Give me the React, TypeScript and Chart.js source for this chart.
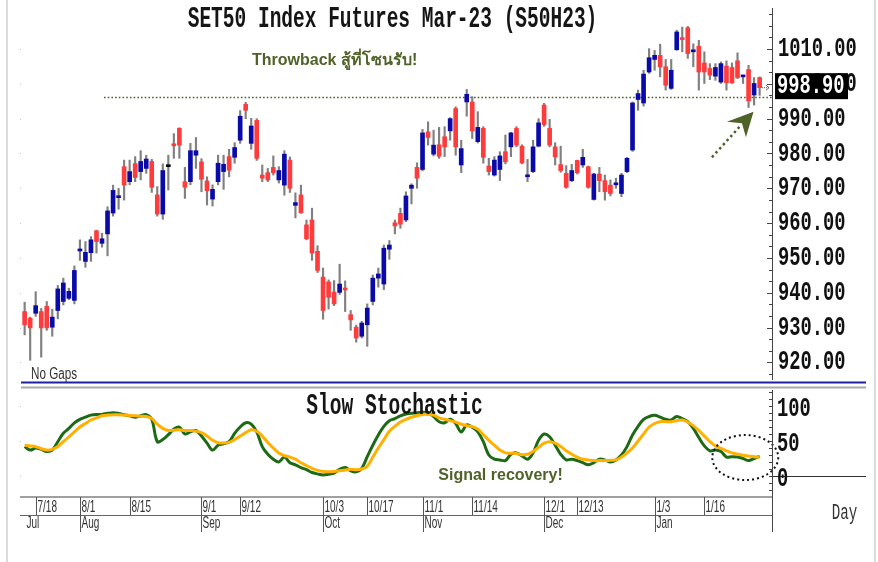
import React, { useEffect, useRef } from "react";
import { Chart, registerables } from "chart.js";

Chart.register(...registerables);

// ---------------- DATA ----------------
const openP = [
  934.6, 932.7, 934.1, 934.6, 936.1, 930.1, 934.9, 937.5, 938.4, 937.8,
  952.0, 949.0, 951.5, 957.8, 954.2, 956.9, 962.9, 967.3, 976.2, 971.9,
  977.1, 974.8, 975.7, 977.7, 968.1, 962.6, 976.2, 982.7, 987.2, 971.9,
  971.9, 979.5, 977.6, 972.1, 966.9, 971.9, 974.8, 979.1, 978.9, 983.8,
  994.1, 982.9, 989.5, 973.8, 974.5, 976.0, 972.4, 970.9, 978.1, 965.1,
  968.1, 959.5, 960.9, 951.9, 944.5, 943.1, 940.2, 940.1, 941.1, 933.7,
  930.1, 927.5, 930.8, 937.5, 944.2, 942.5, 952.5, 960.1, 962.8, 960.9,
  970.0, 976.0, 975.4, 986.2, 979.8, 982.5, 984.8, 986.5, 992.9, 976.7,
  994.8, 994.8, 983.4, 987.2, 976.4, 973.8, 975.4, 980.5, 981.9, 987.2,
  982.1, 973.3, 974.8, 982.1, 993.9, 987.2, 981.9, 976.8, 974.3, 972.2,
  978.0, 976.7, 976.2, 966.8, 974.1, 972.2, 970.9, 971.0, 968.5, 974.8,
  981.0, 995.5, 994.5, 1003.4, 1007.0, 1008.2, 1004.9, 998.7, 1009.8, 1013.0,
  1016.1, 1009.2, 1010.8, 1006.0, 1004.4, 1002.2, 1000.5, 1005.1, 1004.7, 1006.6,
  1002.0, 1004.1, 996.8, 1001.8,
];
const highP = [
  937.3, 933.0, 940.3, 935.5, 937.5, 935.3, 942.1, 944.2, 941.3, 947.7,
  955.2, 954.7, 956.1, 958.0, 957.1, 964.7, 970.9, 970.0, 978.1, 978.1,
  979.1, 980.8, 979.5, 978.3, 970.5, 977.0, 979.5, 985.7, 987.4, 976.0,
  982.9, 984.6, 978.5, 973.3, 971.0, 979.5, 979.5, 981.2, 983.1, 992.3,
  994.7, 990.1, 990.0, 976.7, 975.7, 979.3, 976.2, 980.8, 979.0, 968.7,
  970.9, 960.9, 964.3, 953.5, 947.1, 943.7, 943.5, 948.2, 943.4, 934.9,
  930.7, 931.8, 936.8, 945.1, 947.1, 953.7, 955.0, 960.9, 964.3, 969.0,
  971.3, 977.3, 986.9, 989.1, 986.7, 987.5, 987.7, 990.3, 993.4, 983.8,
  998.4, 996.3, 992.0, 987.7, 978.6, 979.1, 980.5, 985.3, 986.1, 987.7,
  982.5, 978.3, 983.8, 990.0, 994.4, 989.8, 983.1, 982.1, 976.5, 976.9,
  978.1, 981.2, 976.4, 974.3, 976.0, 973.8, 972.4, 972.9, 974.3, 978.9,
  994.8, 998.2, 1003.9, 1010.1, 1009.6, 1011.4, 1007.0, 1007.0, 1015.4, 1016.3,
  1016.5, 1011.5, 1012.5, 1009.2, 1005.8, 1005.8, 1006.3, 1006.6, 1006.0, 1008.9,
  1002.4, 1005.3, 1001.8, 1002.0,
];
const lowP = [
  927.9, 920.6, 933.2, 921.5, 929.2, 927.5, 932.5, 936.5, 938.0, 936.8,
  949.3, 947.3, 949.0, 951.4, 953.1, 950.6, 962.0, 964.0, 966.6, 971.0,
  971.9, 972.4, 974.3, 968.8, 962.0, 961.1, 969.5, 978.6, 978.6, 967.1,
  971.0, 975.7, 969.0, 965.2, 964.9, 971.0, 969.7, 973.3, 977.2, 982.9,
  990.0, 981.2, 978.0, 971.9, 971.9, 973.8, 971.5, 968.0, 968.8, 961.5,
  962.8, 955.2, 949.3, 945.8, 932.4, 935.3, 936.3, 939.5, 934.6, 929.2,
  925.8, 927.0, 924.6, 936.5, 941.6, 940.9, 949.6, 956.9, 958.5, 960.4,
  965.5, 970.0, 975.0, 982.4, 979.3, 978.6, 979.1, 983.8, 979.5, 974.5,
  990.7, 984.3, 983.0, 977.2, 973.8, 973.5, 972.2, 977.0, 979.1, 981.9,
  977.0, 971.9, 974.5, 981.9, 987.8, 981.9, 976.7, 974.6, 970.0, 971.9,
  974.1, 976.0, 970.0, 966.6, 969.0, 966.6, 967.8, 970.0, 967.6, 974.5,
  980.6, 992.4, 993.6, 1003.0, 1003.9, 1002.0, 998.2, 998.4, 1009.6, 1009.2,
  1007.3, 1004.9, 998.2, 1000.1, 1001.2, 1001.0, 1000.1, 998.2, 1000.1, 1001.5,
  1000.1, 993.2, 993.9, 996.7,
];
const closeP = [
  930.8, 929.9, 936.3, 929.9, 929.9, 933.0, 941.1, 942.8, 940.4, 946.4,
  952.5, 951.6, 955.2, 954.7, 955.5, 963.5, 969.4, 967.5, 970.9, 974.8,
  973.1, 977.7, 978.4, 970.3, 962.6, 975.1, 976.2, 982.2, 982.4, 970.3,
  980.8, 980.8, 972.6, 969.3, 969.7, 977.2, 976.9, 975.2, 981.7, 990.7,
  992.4, 987.9, 978.6, 972.9, 972.4, 974.5, 975.1, 979.8, 970.0, 965.9,
  963.0, 955.5, 951.4, 946.4, 934.9, 938.7, 936.8, 942.5, 940.8, 932.2,
  927.0, 931.3, 935.6, 944.2, 945.4, 952.8, 953.7, 959.2, 959.7, 967.8,
  970.9, 972.9, 985.9, 984.6, 982.4, 979.2, 981.9, 990.0, 981.9, 981.4,
  997.0, 986.5, 987.5, 978.9, 974.8, 978.1, 979.3, 977.6, 985.9, 982.4,
  977.3, 973.8, 981.9, 988.8, 988.3, 982.4, 979.0, 975.1, 970.3, 975.1,
  974.5, 978.9, 970.3, 974.1, 972.2, 969.0, 968.5, 971.4, 973.8, 978.6,
  994.5, 997.2, 1002.8, 1007.5, 1008.2, 1004.9, 999.6, 1003.9, 1014.9, 1012.7,
  1008.7, 1009.6, 1003.4, 1003.4, 1002.5, 1004.7, 1005.8, 1000.3, 1000.3, 1001.8,
  1002.2, 995.1, 1000.1, 998.9,
];
const stochK = [
  42, 37, 40, 38, 35, 37, 49, 61, 68, 76,
  81, 84, 87, 88, 88, 89.5, 90.5, 89.5, 87.6, 86,
  84, 86, 87.6, 81, 49, 52, 59, 67, 70, 60,
  63, 65, 57, 47, 37, 44, 46, 49, 61, 70,
  76, 74, 63, 42, 31, 24, 20, 27, 19, 16,
  12, 9, 5, 3, 1.5, 2.5, 4, 9.5, 12, 7.5,
  6, 11, 27.6, 44, 58.6, 71, 79, 82, 86, 88.6,
  89.5, 90.5, 91, 90.5, 85, 77.6, 76, 81, 75, 63,
  73, 69.5, 63, 49, 30, 24, 23, 22, 31, 33,
  28.6, 24, 33, 51, 60, 56, 44, 31, 23, 24,
  22, 19, 16, 19, 24, 23, 20, 23, 30, 42,
  58.6, 71, 81, 85, 86.7, 84, 81, 80, 85, 82,
  77.6, 68, 55, 43, 36, 37, 35, 27, 27.6, 27,
  25, 22, 25, 28,
];
const stochD = [
  44, 43, 42, 39, 37, 38, 42, 49, 56, 63,
  70, 75, 80, 83, 86, 87, 87.6, 87.5, 87, 86.5,
  86, 85.5, 85, 82, 74, 68, 65, 65.5, 66, 65,
  65, 64, 62, 57, 51, 47.6, 47, 48, 52, 57,
  62, 66, 64, 57, 48, 40, 33, 29, 27, 24,
  19, 15, 11, 8, 6.5, 6, 6.5, 7.5, 8.5, 9.5,
  9, 10, 14, 27, 40, 52, 64, 71, 77, 81,
  84, 86, 88, 88, 87, 83, 81, 79, 77, 74,
  72, 70.5, 67, 59, 51, 44, 37, 33, 32.5, 32,
  30.5, 31, 35, 41, 47, 49, 47, 42, 36, 31,
  27, 24, 23, 22, 22, 22, 22.5, 23, 27, 33,
  40, 50, 60, 70, 75, 77.6, 77.6, 77.6, 79, 80,
  77, 72, 65, 57, 49, 43, 39.5, 36, 33, 31,
  29.5, 28.6, 27.5, 27,
];
const priceTicks = [920, 930, 940, 950, 960, 970, 980, 990, 1000, 1010];
const stochTicks = [0, 50, 100];
const dateLabels = ["7/18", "8/1", "8/15", "9/1", "9/12", "10/3", "10/17", "11/1", "11/14", "12/1", "12/13", "1/3", "1/16"];
const dateIdx = [2, 10, 19, 32, 39, 54, 62, 72, 81, 94, 100, 114, 123];
const monthLabels = ["Jul", "Aug", "Sep", "Oct", "Nov", "Dec", "Jan"];
const monthIdx = [0, 10, 32, 54, 72, 94, 114];
const supportLevel = 996.1;
const arrowTip = { i: 131.9, p: 992.0 };
const circleAt = { i: 130.4, v: 26.4 };

const TITLE = "SET50 Index Futures Mar-23 (S50H23)";
const NOTE1 = "Throwback สู้ที่โซนรับ!";
const NOTE2 = "Signal recovery!";
const SUB = "Slow Stochastic";

// ---------------- STYLE ----------------
const X_MIN = -0.84;
const X_MAX = 135.24;
const P_MIN = 914.94;
const P_MAX = 1021.78;
const S_MIN = -30;
const S_MAX = 122.86;
const OLIVE = "#4f6228";
const RED = "#ff3b3b";
const BLUE = "#0a0aa8";
const MONO = '"Liberation Mono", "DejaVu Sans Mono", monospace';
const SANS = '"Liberation Sans", Arial, "Noto Sans", sans-serif';

function sText(ctx: CanvasRenderingContext2D, text: string, x: number, y: number, font: string, sy: number, color: string, align: CanvasTextAlign = "left") {
  ctx.save();
  ctx.translate(x, y);
  ctx.scale(1, sy);
  ctx.font = font;
  ctx.fillStyle = color;
  ctx.textAlign = align;
  ctx.textBaseline = "middle";
  ctx.fillText(text, 0, 0);
  ctx.restore();
}

const idx = closeP.map((_, i) => i);

export default function App() {
  const refA = useRef<HTMLCanvasElement>(null);
  const refB = useRef<HTMLCanvasElement>(null);

  useEffect(() => {
    const bodyColors = idx.map((i) =>
      closeP[i] > openP[i] ? BLUE : closeP[i] < openP[i] ? RED : "#000000"
    );

    const pluginA = {
      id: "decoA",
      beforeDatasetsDraw(chart: any) {
        const { ctx, scales } = chart;
        const y = scales.y;
        ctx.save();
        // support dotted line
        const ys = Math.round(y.getPixelForValue(supportLevel)) + 0.5;
        ctx.strokeStyle = OLIVE;
        ctx.lineWidth = 1.5;
        ctx.setLineDash([1.6, 2.1]);
        ctx.beginPath();
        ctx.moveTo(104, ys);
        ctx.lineTo(772, ys);
        ctx.stroke();
        ctx.setLineDash([]);
        // faint left marks
        ctx.fillStyle = "#c8c8c8";
        priceTicks.forEach((v) => ctx.fillRect(20, Math.round(y.getPixelForValue(v)), 1, 1));
        ctx.restore();
      },
      afterDraw(chart: any) {
        const { ctx, scales } = chart;
        const x = scales.x;
        const y = scales.y;
        ctx.save();
        // frame
        ctx.fillStyle = "#dcdcdc";
        ctx.fillRect(6, 0, 2, 390);
        ctx.fillRect(874, 0, 2, 390);
        // title
        sText(ctx, TITLE, 392.5, 20, "bold 19.5px " + MONO, 1.5, "#151515", "center");
        // note
        ctx.font = "bold 16px " + SANS;
        ctx.fillStyle = OLIVE;
        ctx.textBaseline = "middle";
        ctx.textAlign = "left";
        ctx.fillText(NOTE1, 252, 61);
        // arrow
        const tx = x.getPixelForValue(arrowTip.i);
        const ty = y.getPixelForValue(arrowTip.p);
        ctx.fillStyle = OLIVE;
        ctx.beginPath();
        ctx.moveTo(tx, ty);
        ctx.lineTo(tx - 26.6, ty + 10);
        ctx.lineTo(tx - 11.6, ty + 11.6);
        ctx.lineTo(tx - 7.6, ty + 25.6);
        ctx.closePath();
        ctx.fill();
        ctx.strokeStyle = OLIVE;
        ctx.lineWidth = 2.5;
        ctx.setLineDash([2.5, 3]);
        ctx.beginPath();
        ctx.moveTo(tx - 41.6, ty + 45.6);
        ctx.lineTo(tx - 13, ty + 14);
        ctx.stroke();
        ctx.setLineDash([]);
        // right axis
        ctx.fillStyle = "#444";
        ctx.fillRect(772, 8, 1, 372);
        for (let v = 920 - 10; v <= 1021; v += 10 / 3) {
          const py = Math.round(y.getPixelForValue(v));
          if (py < 9 || py > 379) continue;
          ctx.fillRect(769, py, 3, 1);
        }
        priceTicks.forEach((v) => {
          ctx.fillRect(767, Math.round(y.getPixelForValue(v)), 5, 1);
          sText(ctx, v.toFixed(2), 778, y.getPixelForValue(v), "bold 18.8px " + MONO, 1.5, "#111");
        });
        // last price box
        const last = closeP[closeP.length - 1];
        const ly = y.getPixelForValue(last) - 1.5;
        ctx.fillStyle = "#000";
        ctx.fillRect(775, ly - 13, 73, 26);
        sText(ctx, last.toFixed(2), 777, ly, "bold 18.8px " + MONO, 1.5, "#fff");
        // tiny pointer
        ctx.strokeStyle = "#666";
        ctx.lineWidth = 1;
        ctx.setLineDash([1, 1]);
        ctx.beginPath();
        ctx.moveTo(762, ly + 1.5);
        ctx.lineTo(769, ly + 1.5);
        ctx.stroke();
        ctx.setLineDash([]);
        ctx.beginPath();
        ctx.moveTo(766, ly - 1);
        ctx.lineTo(769, ly + 1.5);
        ctx.lineTo(766, ly + 4);
        ctx.stroke();
        // No Gaps
        sText(ctx, "No Gaps", 31, 374, "11.7px " + SANS, 1.4, "#333");
        // separators
        ctx.fillStyle = "#2020a0";
        ctx.fillRect(21, 381.5, 845, 2);
        ctx.fillStyle = "#a8a8a8";
        ctx.fillRect(21, 386.5, 845, 2);
        ctx.restore();
      },
    };

    const pluginB = {
      id: "decoB",
      afterDraw(chart: any) {
        const { ctx, scales } = chart;
        const x = scales.x;
        const y = scales.y;
        ctx.save();
        ctx.fillStyle = "#dcdcdc";
        ctx.fillRect(6, 0, 2, 172);
        ctx.fillRect(874, 0, 2, 172);
        // subtitle
        sText(ctx, SUB, 394.5, 16.5, "bold 19.6px " + MONO, 1.5, "#151515", "center");
        // note
        ctx.font = "bold 16px " + SANS;
        ctx.fillStyle = OLIVE;
        ctx.textBaseline = "middle";
        ctx.textAlign = "left";
        ctx.fillText(NOTE2, 438.3, 85.5);
        // dotted ellipse
        ctx.strokeStyle = "#111";
        ctx.lineWidth = 2;
        ctx.setLineDash([2, 3]);
        ctx.beginPath();
        ctx.ellipse(x.getPixelForValue(circleAt.i), y.getPixelForValue(circleAt.v), 33, 22.5, 0, 0, Math.PI * 2);
        ctx.stroke();
        ctx.setLineDash([]);
        // right axis
        ctx.fillStyle = "#444";
        ctx.fillRect(772, 0, 1, 142);
        for (let v = -20; v <= 120; v += 10) {
          ctx.fillRect(769, Math.round(y.getPixelForValue(v)), 3, 1);
        }
        ctx.fillStyle = "#333";
        ctx.fillRect(773, Math.round(y.getPixelForValue(0)), 93, 1);
        ctx.fillStyle = "#c8c8c8";
        stochTicks.forEach((v) => ctx.fillRect(20, Math.round(y.getPixelForValue(v)), 1, 1));
        stochTicks.forEach((v) => {
          sText(ctx, String(v), 777, y.getPixelForValue(v) + 3, "bold 18.8px " + MONO, 1.5, "#111");
        });
        // date axis
        ctx.fillStyle = "#a0a0a0";
        ctx.fillRect(20, 106, 752, 2);
        ctx.fillStyle = "#666";
        ctx.fillRect(20, 125, 752, 1);
        ctx.fillStyle = "#555";
        dateIdx.forEach((d, k) => {
          const px = Math.round(x.getPixelForValue(d));
          ctx.fillStyle = "#555";
          ctx.fillRect(px, 107, 1, 18);
          sText(ctx, dateLabels[k], px + 1.5, 117.5, "10px " + SANS, 1.6, "#333");
        });
        monthIdx.forEach((m, k) => {
          const px = Math.round(x.getPixelForValue(m));
          if (k > 0) {
            ctx.fillStyle = "#555";
            ctx.fillRect(px, 107, 1, 35);
          }
          sText(ctx, monthLabels[k], px + 1.5, 133.3, "10px " + SANS, 1.6, "#333");
        });
        sText(ctx, "Day", 831.7, 123.4, "14.2px " + MONO, 1.6, "#333");
        ctx.restore();
      },
    };

    const a = new Chart(refA.current!, {
      type: "bar",
      data: {
        datasets: [
          {
            type: "bar",
            data: idx.map((i) => ({ x: i, y: [openP[i], closeP[i]] })),
            backgroundColor: bodyColors,
            barThickness: 4,
            minBarLength: 2,
            grouped: false,
            order: 0,
          } as any,
          {
            type: "bar",
            data: idx.map((i) => ({ x: i, y: [lowP[i], highP[i]] })),
            backgroundColor: "#808080",
            barThickness: 1.5,
            grouped: false,
            order: 1,
          } as any,
        ],
      },
      options: {
        animation: false,
        responsive: false,
        devicePixelRatio: 1,
        layout: { padding: { left: 20, right: 106, top: 8, bottom: 10 } },
        plugins: { legend: { display: false }, tooltip: { enabled: false } },
        scales: {
          x: { type: "linear", min: X_MIN, max: X_MAX, display: false, offset: false },
          y: { type: "linear", min: P_MIN, max: P_MAX, display: false },
        },
      } as any,
      plugins: [pluginA],
    });

    const b = new Chart(refB.current!, {
      type: "line",
      data: {
        datasets: [
          {
            data: idx.map((i) => ({ x: i, y: stochD[i] })),
            borderColor: "#ffb000",
            borderWidth: 3,
            pointRadius: 0,
            tension: 0.35,
            fill: false,
          },
          {
            data: idx.map((i) => ({ x: i, y: stochK[i] })),
            borderColor: "#1d6a14",
            borderWidth: 3,
            pointRadius: 0,
            tension: 0.35,
            fill: false,
          },
        ],
      },
      options: {
        animation: false,
        responsive: false,
        devicePixelRatio: 1,
        layout: { padding: { left: 20, right: 106, top: 0, bottom: 65 } },
        plugins: { legend: { display: false }, tooltip: { enabled: false } },
        scales: {
          x: { type: "linear", min: X_MIN, max: X_MAX, display: false },
          y: { type: "linear", min: S_MIN, max: S_MAX, display: false },
        },
      } as any,
      plugins: [pluginB],
    });

    return () => {
      a.destroy();
      b.destroy();
    };
  }, []);

  return (
    <div style={{ position: "absolute", left: 0, top: 0, width: 878, height: 562, background: "#fff" }}>
      <canvas ref={refA} width={878} height={390} style={{ position: "absolute", left: 0, top: 0, display: "block" }} />
      <canvas ref={refB} width={878} height={172} style={{ position: "absolute", left: 0, top: 390, display: "block" }} />
    </div>
  );
}
